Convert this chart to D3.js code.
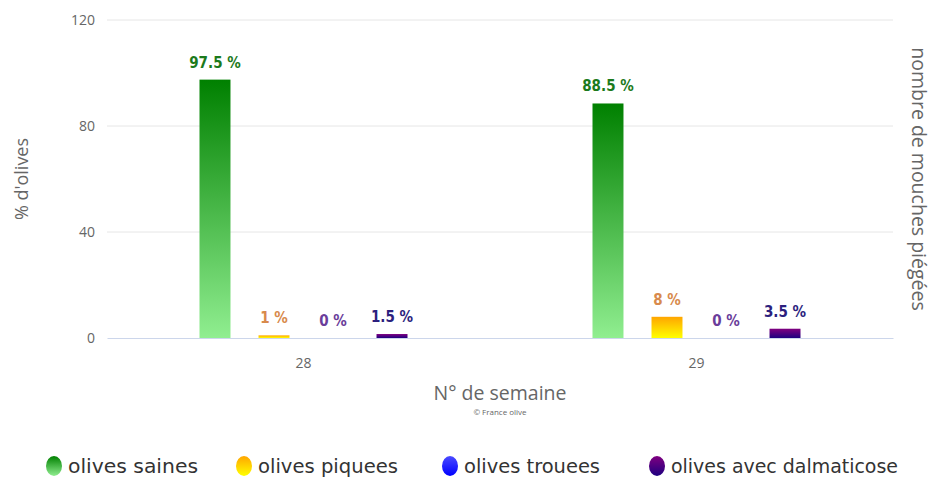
<!DOCTYPE html>
<html>
<head>
<meta charset="utf-8">
<script src="https://cdn.jsdelivr.net/npm/d3@7"></script>
<style>
  body { margin: 0; background: #fff; }
  svg { display: block; font-family: "Open Sans", "DejaVu Sans", sans-serif; }
</style>
</head>
<body>
<div id="chart"></div>
<script>
// Data
const weeks = ["28", "29"];
const seriesNames = ["olives saines", "olives piquees", "olives trouees", "olives avec dalmaticose"];
const saines = [97.5, 88.5];
const piquees = [1, 8];
const trouees = [0, 0];
const dalmaticose = [1.5, 3.5];
const yTicks = [0, 40, 80, 120];

// Styles per series: gradient top / bottom, label colour
const gradTop = ["#008000", "#ffa500", "#4b4bff", "#800080"];
const gradBottom = ["#90ee90", "#ffff00", "#0000ff", "#1e0080"];
const labelColors = ["#1c7a1c", "#d88a4c", "#6a3d9a", "#2c1f7e"];
const legendWidths = [130, 140, 136, 227];

const width = 936, height = 479;
const margin = { top: 20, right: 43, bottom: 141, left: 107 };
const innerW = width - margin.left - margin.right;
const innerH = height - margin.top - margin.bottom;

const values = [saines, piquees, trouees, dalmaticose];

const svg = d3.select("#chart").append("svg")
    .attr("width", width)
    .attr("height", height);

// gradients
const defs = svg.append("defs");
seriesNames.forEach((name, i) => {
    const g = defs.append("linearGradient")
        .attr("id", "grad" + i)
        .attr("x1", 0).attr("y1", 0).attr("x2", 0).attr("y2", 1);
    g.append("stop").attr("offset", "0%").attr("stop-color", gradTop[i]);
    g.append("stop").attr("offset", "100%").attr("stop-color", gradBottom[i]);
});

const plot = svg.append("g").attr("transform", `translate(${margin.left},${margin.top})`);

const x0 = d3.scaleBand().domain(weeks).range([0, innerW]);
const x1 = d3.scaleBand().domain(d3.range(seriesNames.length))
    .range([x0.bandwidth() / 2 - 104, x0.bandwidth() / 2 + 104])
    .paddingInner(0.475);
const y = d3.scaleLinear().domain([0, 120]).range([innerH, 0]);

// gridlines
plot.append("g")
    .selectAll("line")
    .data(yTicks.filter(t => t > 0))
    .enter().append("line")
    .attr("x1", 0).attr("x2", innerW)
    .attr("y1", d => y(d)).attr("y2", d => y(d))
    .attr("stroke", "#e6e6e6");

// y axis labels
const yAxis = plot.append("g")
    .call(d3.axisLeft(y).tickValues(yTicks).tickSize(0).tickPadding(12));
yAxis.select(".domain").remove();
yAxis.selectAll("text")
    .attr("fill", "#666")
    .style("font-size", "14px")
    .style("font-family", "'Open Sans', sans-serif");

// bars
const groups = plot.append("g")
    .selectAll("g")
    .data(weeks)
    .enter().append("g")
    .attr("transform", d => `translate(${x0(d)},0)`);

groups.each(function(week, wi) {
    const g = d3.select(this);
    values.forEach((vals, si) => {
        const v = vals[wi];
        if (v > 0) {
            g.append("rect")
                .attr("x", x1(si))
                .attr("y", y(v))
                .attr("width", x1.bandwidth())
                .attr("height", innerH - y(v))
                .attr("fill", `url(#grad${si})`);
        }
        g.append("text")
            .attr("x", x1(si) + x1.bandwidth() / 2)
            .attr("y", y(v) - 12)
            .attr("text-anchor", "middle")
            .attr("fill", labelColors[si])
            .attr("stroke", "#fff")
            .attr("stroke-width", 2)
            .attr("paint-order", "stroke")
            .style("font-size", "15px")
            .style("font-weight", "bold")
            .style("font-family", "'DejaVu Sans Condensed', 'DejaVu Sans', sans-serif")
            .text(v + " %");
    });
});

// x axis
const xAxis = plot.append("g")
    .attr("transform", `translate(0,${innerH})`)
    .call(d3.axisBottom(x0).tickSize(0).tickPadding(20));
xAxis.select(".domain").attr("stroke", "#ccd6eb");
xAxis.selectAll("text")
    .attr("fill", "#666")
    .style("font-size", "14px")
    .style("font-family", "'Open Sans', sans-serif");

// axis titles
svg.append("text")
    .attr("x", margin.left + innerW / 2)
    .attr("y", 400)
    .attr("text-anchor", "middle")
    .attr("fill", "#666")
    .style("font-size", "19.5px")
    .text("N° de semaine");

svg.append("text")
    .attr("x", margin.left + innerW / 2)
    .attr("y", 415)
    .attr("text-anchor", "middle")
    .attr("fill", "#666")
    .style("font-size", "8px")
    .text("© France olive");

svg.append("text")
    .attr("transform", `translate(28,${margin.top + innerH / 2}) rotate(-90)`)
    .attr("text-anchor", "middle")
    .attr("fill", "#666")
    .style("font-size", "18px")
    .text("% d'olives");

svg.append("text")
    .attr("transform", `translate(912,${margin.top + innerH / 2}) rotate(90)`)
    .attr("text-anchor", "middle")
    .attr("fill", "#666")
    .style("font-size", "19.5px")
    .text("nombre de mouches piégées");

// legend
const legendX = [54, 244, 450, 657];
const legend = svg.append("g")
    .selectAll("g")
    .data(seriesNames)
    .enter().append("g")
    .attr("transform", (d, i) => `translate(${legendX[i]},466)`);

legend.append("ellipse")
    .attr("rx", 8).attr("ry", 10)
    .attr("fill", (d, i) => `url(#grad${i})`);

legend.append("text")
    .attr("x", 14)
    .attr("y", 7)
    .attr("fill", "#333")
    .attr("textLength", (d, i) => legendWidths[i])
    .attr("lengthAdjust", "spacingAndGlyphs")
    .style("font-size", "19px")
    .style("font-family", "'DejaVu Sans Condensed', 'DejaVu Sans', sans-serif")
    .text(d => d);
</script>
</body>
</html>
